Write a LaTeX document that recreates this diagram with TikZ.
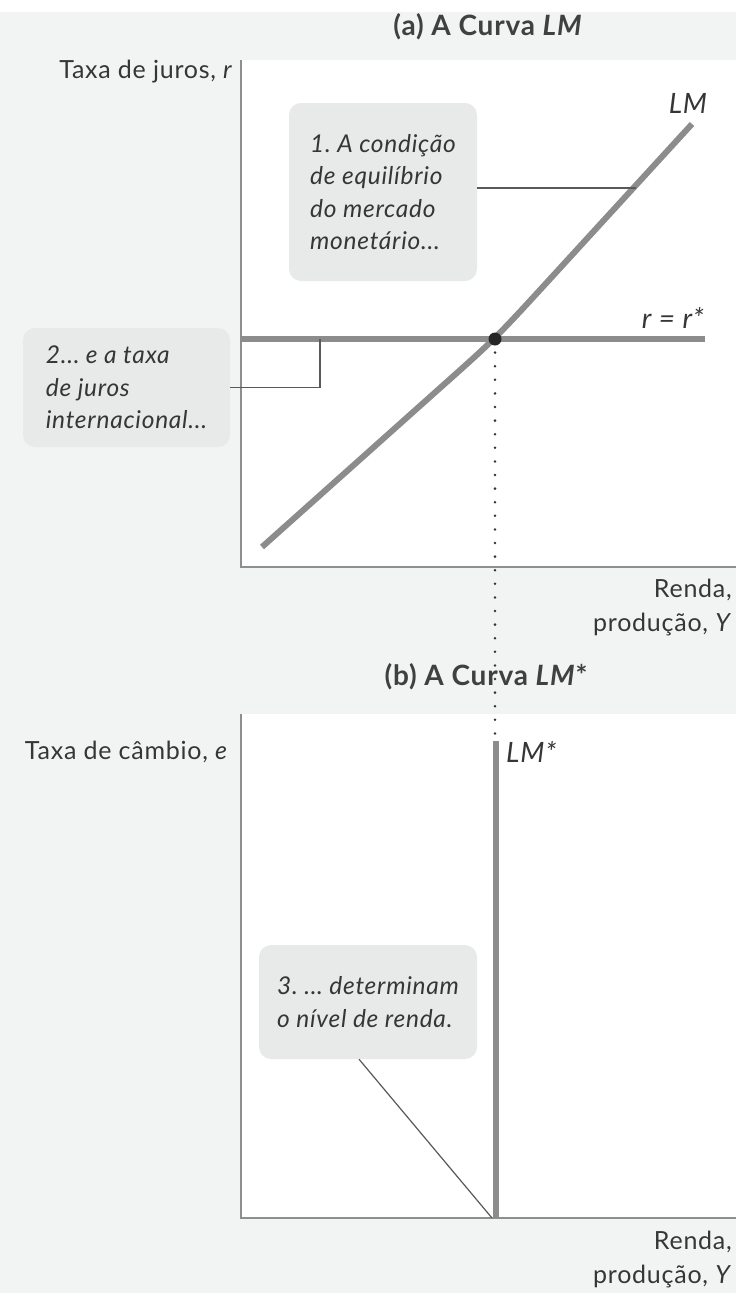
\documentclass[tikz,border=0pt]{standalone}
\usepackage{fontspec}
\setmainfont{Lato}[LetterSpace=3]
\usetikzlibrary{positioning}
\frenchspacing

\definecolor{bggray}{HTML}{F2F3F3}
\definecolor{boxgray}{HTML}{E8E9E9}
\definecolor{curvegray}{HTML}{8C8C8C}
\definecolor{axisgray}{HTML}{8E8E8E}
\definecolor{txtgray}{HTML}{363636}

\begin{document}
\begin{tikzpicture}[x=1pt,y=-1pt,
    every node/.style={text=txtgray, inner sep=0pt, font=\fontsize{25}{34}\selectfont},
    paneltitle/.style={font=\fontsize{28}{34}\selectfont\bfseries, text=black!75},
    curvelabel/.style={font=\fontsize{28}{34}\selectfont\itshape},
    axis/.style={axisgray, line width=1.5pt},
    curve/.style={curvegray, line width=6pt},
    note/.style={fill=boxgray, rounded corners=12pt, align=left,
      font=\fontsize{24.5}{32.3}\selectfont\itshape},
    leader/.style={black!65, line width=1.2pt}]
      \useasboundingbox (0,0) rectangle (736,1293);

      % Background and plot areas
      \fill[white] (0,0) rectangle (736,1293);
      \fill[bggray] (0,12) rectangle (736,1293);
      \fill[white] (241,60) rectangle (736,567);
      \fill[white] (241,714) rectangle (736,1218);

      % Titles
      \node[paneltitle] (titleA) at (488,27) {(a) A Curva \textit{LM}};
      \node[paneltitle] (titleB) at (486,677) {(b) A Curva \textit{LM}*};

      % Axes
      \draw[axis] (241,60) -- (241,567) -- (736,567);
      \draw[axis] (241,714) -- (241,1218) -- (736,1218);

      % Axis labels
      \node[anchor=east] (yLabelA) at (233,72) {Taxa de juros, \textit{r}};
      \node[anchor=east, align=right] (xLabelA) at (732,608) {Renda,\\produção, \textit{Y}};
      \node[anchor=east] (yLabelB) at (228,752) {Taxa de câmbio, \textit{e}};
      \node[anchor=east, align=right] (xLabelB) at (732,1260) {Renda,\\produção, \textit{Y}};

      % Key points
      \coordinate (eq) at (495,339);
      \coordinate (eqDown) at (495,735);
      \coordinate (lmStarTop) at (496,741);
      \coordinate (lmStarFoot) at (496,1218);
      \coordinate (lmHit) at (636,188);
      \coordinate (rHit) at (320,339);
      \coordinate (footHit) at (492,1218);

      % Curves
      \draw[curve] (241,339) -- (705,339);
      \draw[curve] (262,547) -- (440,388) .. controls (eq) .. (550,279) -- (692,124);
      \draw[curve] (lmStarTop) -- (lmStarFoot);
      \draw[black!80, line width=2.8pt, line cap=round, dash pattern=on 0pt off 13.6pt]
        (eq) -- (eqDown);
      \fill[black!85] (eq) circle (6.5pt);

      % Curve labels
      \node[curvelabel] (lmLabel) at (688,103) {LM};
      \node[curvelabel] (rLabel) at (673,318) {r = r*};
      \node[curvelabel, anchor=west] (lmStarLabel) at (506,752) {LM*};

      % Notes
      \node[note, minimum width=188pt, minimum height=178pt] (note1) at (383,192)
        {1. A condição\\de equilíbrio\\do mercado\\monetário...};
      \node[note, minimum width=207pt, minimum height=119pt] (note2) at (126.5,387.5)
        {2... e a taxa\\de juros\\internacional...};
      \node[note, minimum width=218pt, minimum height=114pt] (note3) at (368,1002)
        {3. ... determinam\\o nível de renda.};

      % Leaders
      \draw[leader] (lmHit -| note1.east) -- (lmHit);
      \draw[leader] (note2.east) -| (rHit);
      \draw[leader] ([xshift=-9pt]note3.south) -- (footHit);
    \end{tikzpicture}
\end{document}
